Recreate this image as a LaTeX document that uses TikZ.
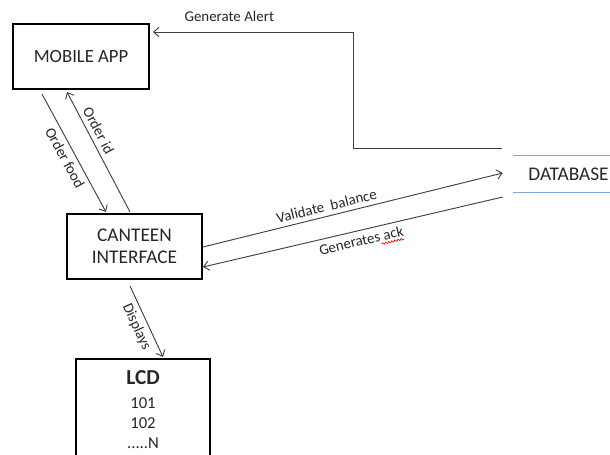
\documentclass[tikz,border=0pt]{standalone}
\usepackage{fontspec}
\setmainfont{Carlito}
\usetikzlibrary{arrows.meta,calc,decorations.pathmorphing}

\begin{document}
\begin{tikzpicture}[x=0.75pt,y=-0.75pt,
  box/.style={draw=black, line width=1.5pt, text=textgray, align=center, inner sep=0pt,
    font=\fontsize{14.5}{16.5}\selectfont},
  flow/.style={draw=linegray, line width=0.7pt, -{Straight Barb[length=4pt,width=7pt]}},
  lbl/.style={font=\fontsize{11.2}{13}\selectfont, text=textgray, sloped},
  squiggle/.style={draw=red, line width=0.45pt, decorate, decoration={snake, amplitude=0.7pt, segment length=2.4pt}}]
  \definecolor{linegray}{HTML}{404040}
  \definecolor{textgray}{HTML}{262626}
  \definecolor{dbblue}{HTML}{7EA6D8}

  \useasboundingbox (0,0) rectangle (610,454);

  % blocks
  \node[box, minimum width=102pt, minimum height=48.75pt, font=\fontsize{14}{16}\selectfont] (mobile) at (81,56.5) {MOBILE APP};
  \node[box, minimum width=101.25pt, minimum height=48.75pt] (canteen) at (134.5,246.5) {CANTEEN\\INTERFACE};
  \node[box, anchor=north, minimum width=100.5pt, inner ysep=9pt, font=\fontsize{12.5}{15}\selectfont] (lcd) at (143,358)
    {{\fontsize{16}{18}\selectfont\bfseries LCD}\\[3pt]101\\102\\.....N};

  % data store
  \node[font=\fontsize{14.5}{16}\selectfont, text=textgray, minimum width=83.25pt, minimum height=27pt, inner sep=0pt] (db) at (568.5,174) {DATABASE};
  \draw[dbblue, line width=1.1pt] (db.north west) -- (db.north east) (db.south west) -- (db.south east);

  % flows
  \draw[flow] ($(mobile.south west)+(30,4)$) -- ($(canteen.north west)+(40,-1)$)
    node[lbl, pos=0.5, below] {Order food};
  \draw[flow] ($(canteen.north west)+(64,-1)$) -- ($(mobile.south west)+(55,2)$)
    node[lbl, pos=0.64, above] {Order id};
  \draw[flow] ($(canteen.east)+(0,0.5)$) -- ($(db.west)+(-10,-1)$)
    node[lbl, pos=0.42, above] {Validate\ \ balance};
  \draw[flow] ($(db.west)+(-10,23)$) -- ($(canteen.east)+(0,20.5)$)
    node[lbl, pos=0.48, below] (ack) {Generates ack};
  \draw[flow] ($(canteen.south west)+(64,6)$) -- ($(lcd.north west)+(88,-1)$)
    node[lbl, pos=0.51, below] {Displays};
  \draw[flow] ($(db.north west)+(-11,-7)$) -- ++(-148,0) |- ($(mobile.north east)+(3,9)$)
    node[lbl, pos=0.81, above=4pt] {Generate Alert};

  % spell-check mark under "ack"
  \coordinate (ackl) at ($(ack.base west)!0.70!(ack.base east)$);
  \coordinate (ackr) at ($(ack.base west)!0.94!(ack.base east)$);
  \draw[squiggle] ($(ackl)!2.2pt!-90:(ackr)$) -- ($(ackr)!2.2pt!90:(ackl)$);

\end{tikzpicture}
\end{document}
